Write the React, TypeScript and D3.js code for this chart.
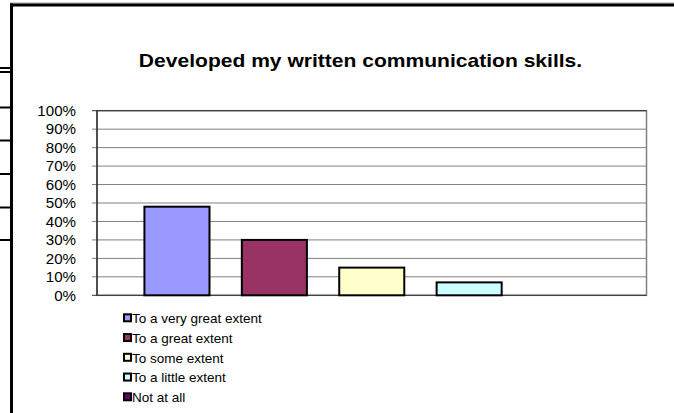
import React from "react";
import * as d3 from "d3";

const title = "Developed my written communication skills.";
const seriesNames = [
  "To a very great extent",
  "To a great extent",
  "To some extent",
  "To a little extent",
  "Not at all",
];
const seriesValues = [0.48, 0.3, 0.15, 0.07, 0];
const seriesColors = ["#9999FF", "#993366", "#FFFFCC", "#CCFFFF", "#660066"];
const yTicks = [0, 0.1, 0.2, 0.3, 0.4, 0.5, 0.6, 0.7, 0.8, 0.9, 1.0];
const stubYs = [68, 72, 107.5, 140.5, 174, 207.5, 240];

const W = 674;
const H = 413;
const plot = { left: 97, right: 646.5, top: 110.7, bottom: 295.3 };
const FONT = "'Liberation Sans', Arial, sans-serif";

export default function App() {
  const x = d3
    .scaleBand<string>()
    .domain(seriesNames)
    .range([plot.left, plot.right])
    .paddingInner(0.332)
    .paddingOuter(0.487);
  const y = d3.scaleLinear().domain([0, 1]).range([plot.bottom, plot.top]);
  const fmt = d3.format(".0%");

  return (
    <svg
      width={W}
      height={H}
      style={{ position: "absolute", left: 0, top: 0, display: "block", background: "#fff" }}
      fontFamily={FONT}
    >
      <rect x={0} y={0} width={W} height={H} fill="#fff" />
      {/* background stubs */}
      {stubYs.map((sy, i) => (
        <line key={i} x1={0} x2={11} y1={sy} y2={sy} stroke="#000" strokeWidth={2} />
      ))}
      {/* outer frame */}
      <line x1={10} x2={W} y1={3} y2={3} stroke="#999" strokeWidth={1} />
      <line x1={10} x2={W} y1={5} y2={5} stroke="#000" strokeWidth={3} />
      <line x1={11.5} x2={11.5} y1={3.5} y2={H} stroke="#000" strokeWidth={3} />

      {/* title */}
      <text
        transform="translate(360.5,67) scale(1.17,1)"
        textAnchor="middle"
        fontSize={18}
        fontWeight="bold"
        fill="#000"
      >
        {title}
      </text>

      {/* plot background + gridlines */}
      <rect
        x={plot.left}
        y={plot.top}
        width={plot.right - plot.left}
        height={plot.bottom - plot.top}
        fill="#fff"
        stroke="#808080"
        strokeWidth={1.5}
      />
      {yTicks.map((t, i) => (
        <line
          key={i}
          x1={plot.left - 5}
          x2={plot.right}
          y1={y(t)}
          y2={y(t)}
          stroke={i === 0 || i === yTicks.length - 1 ? "#333" : "#808080"}
          strokeWidth={1}
        />
      ))}
      {/* y axis */}
      <line x1={plot.left} x2={plot.left} y1={plot.top} y2={plot.bottom} stroke="#000" strokeWidth={1} />
      {yTicks.map((t, i) => (
        <text
          key={i}
          transform={`translate(76,${y(t)}) scale(1.08,1)`}
          dy="0.38em"
          textAnchor="end"
          fontSize={14}
          fill="#000"
        >
          {fmt(t)}
        </text>
      ))}

      {/* bars */}
      {seriesNames.map((s, i) =>
        seriesValues[i] > 0 ? (
          <rect
            key={s}
            x={x(s)}
            y={y(seriesValues[i])}
            width={x.bandwidth()}
            height={y(0) - y(seriesValues[i])}
            fill={seriesColors[i]}
            stroke="#000"
            strokeWidth={2}
          />
        ) : null
      )}

      {/* legend */}
      {seriesNames.map((s, i) => {
        const cy = 318.3 + i * 19.75;
        return (
          <g key={s}>
            <rect x={124} y={cy - 4} width={7} height={7} fill={seriesColors[i]} stroke="#000" strokeWidth={2} />
            <text x={132} y={cy} dy="0.36em" fontSize={13.5} fill="#000">
              {s}
            </text>
          </g>
        );
      })}
    </svg>
  );
}
